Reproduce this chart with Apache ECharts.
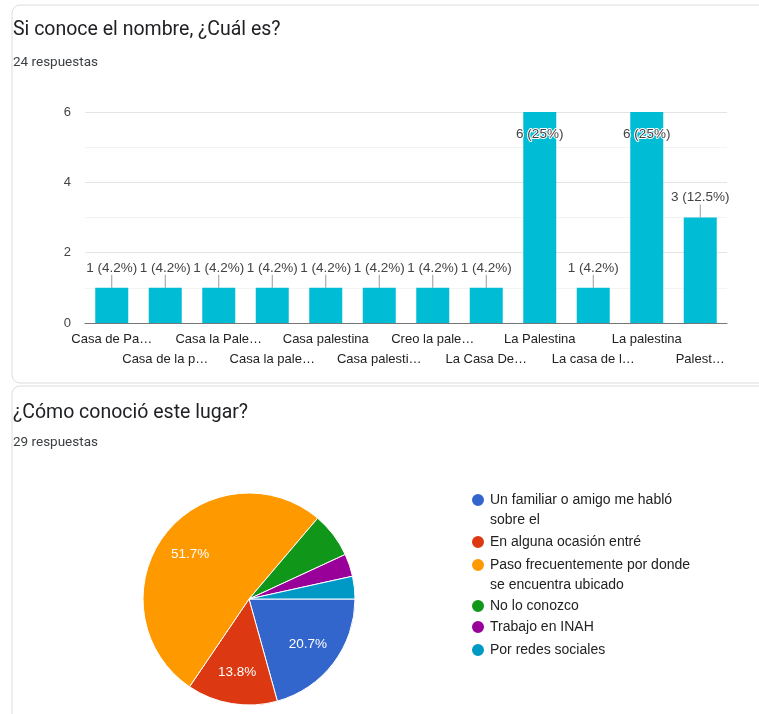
<!DOCTYPE html>
<html><head><meta charset="utf-8">
<script src="https://cdn.jsdelivr.net/npm/echarts@6/dist/echarts.min.js"></script>
<style>html,body{margin:0;padding:0;background:#fff}#c{width:759px;height:714px}</style>
</head><body><div id="c"></div>
<script>
// ---- data ----
const barTitle = 'Si conoce el nombre, ¿Cuál es?';
const barSubtitle = '24 respuestas';
const barCategories = ['Casa de Pa…','Casa de la p…','Casa la Pale…','Casa la pale…','Casa palestina','Casa palesti…','Creo la pale…','La Casa De…','La Palestina','La casa de l…','La palestina','Palest…'];
const barValues = [1,1,1,1,1,1,1,1,6,1,6,3];
const yTickLabels = [0,2,4,6];

const pieTitle = '¿Cómo conoció este lugar?';
const pieSubtitle = '29 respuestas';
const pieNames = ['Un familiar o amigo me habló sobre el','En alguna ocasión entré','Paso frecuentemente por donde se encuentra ubicado','No lo conozco','Trabajo en INAH','Por redes sociales'];
const pieLegendLines = [['Un familiar o amigo me habló','sobre el'],['En alguna ocasión entré'],['Paso frecuentemente por donde','se encuentra ubicado'],['No lo conozco'],['Trabajo en INAH'],['Por redes sociales']];
const pieValues = [6,4,15,2,1,1];
const pieColors = ['#3366cc','#dc3912','#ff9900','#109618','#990099','#0099c6'];

// ---- build ----
const chart = echarts.init(document.getElementById('c'), null, {renderer:'canvas'});
const barTotal = barValues.reduce((a,b)=>a+b,0);
const pieTotal = pieValues.reduce((a,b)=>a+b,0);
const yMax = 6;
const F = 'Liberation Sans, Arial, sans-serif';
const TF = 'Roboto, sans-serif';

const barData = barValues.map(v => v >= yMax
  ? {value:v, label:{position:'insideTop', distance:15, textBorderColor:'#fff', textBorderWidth:2}}
  : v);

const legendTops = [470, 532, 535, 596, 617, 640];
const legends = pieNames.map((n,i) => ({
  data:[n], orient:'vertical', left:470, top:legendTops[i], padding:0,
  icon:'circle', itemWidth:14, itemHeight:14, itemGap:5,
  formatter: () => (pieLegendLines[i].length > 1 ? '\n' : '') + pieLegendLines[i].join('\n'),
  textStyle:{fontFamily:F, fontSize:14, color:'#222', lineHeight:20}
}));

const option = {
  animation:false,
  graphic:[
    {type:'rect', shape:{x:12, y:5, width:800, height:378, r:8}, style:{fill:'none', stroke:'#dadce0', lineWidth:1}, z:-10},
    {type:'rect', shape:{x:12, y:386, width:800, height:400, r:8}, style:{fill:'none', stroke:'#dadce0', lineWidth:1}, z:-10}
  ],
  title:[
    {text:barTitle, left:13, top:20, padding:0, textStyle:{fontFamily:TF, fontSize:19.5, fontWeight:'normal', color:'#202124'}},
    {text:barSubtitle, left:13, top:56, padding:0, textStyle:{fontFamily:TF, fontSize:13.5, fontWeight:'normal', color:'#3c4043'}},
    {text:pieTitle, left:13, top:403, padding:0, textStyle:{fontFamily:TF, fontSize:19.5, fontWeight:'normal', color:'#202124'}},
    {text:pieSubtitle, left:13, top:436, padding:0, textStyle:{fontFamily:TF, fontSize:13.5, fontWeight:'normal', color:'#3c4043'}}
  ],
  legend: legends,
  grid:{left:85, right:32, top:112, bottom:391, containLabel:false},
  xAxis:{type:'category', data:barCategories,
    axisTick:{show:false},
    axisLine:{lineStyle:{color:'#777', width:1}},
    axisLabel:{interval:0, margin:6, fontFamily:F, fontSize:13, color:'#222', lineHeight:20,
      formatter:(v,i)=> i%2===1 ? '\n'+v : v}
  },
  yAxis:{type:'value', min:0, max:yMax, interval:1,
    axisLine:{show:false}, axisTick:{show:false},
    axisLabel:{margin:14, fontFamily:F, fontSize:13, color:'#444',
      formatter:v => yTickLabels.includes(v) ? String(v) : ''},
    splitLine:{lineStyle:{color:['#e4e4e4','#f3f3f3'], width:1}}
  },
  series:[
    {type:'bar', data:barData, barWidth:33, itemStyle:{color:'#00bcd4'},
      label:{show:true, position:'top', distance:0, fontFamily:F, fontSize:13.5, color:'#444',
        formatter:p => p.value + ' (' + parseFloat((p.value/barTotal*100).toFixed(1)) + '%)'},
      labelLayout:p => barValues[p.dataIndex] >= yMax ? {} : {dy:-13},
      labelLine:{show:true, lineStyle:{color:'#999', width:1}}
    },
    {type:'pie', center:[249,599], radius:106, startAngle:0, clockwise:true,
      label:{show:false}, labelLine:{show:false},
      itemStyle:{borderColor:'#fff', borderWidth:1},
      data:pieNames.map((n,i)=>({name:n, value:pieValues[i], itemStyle:{color:pieColors[i]}}))
    },
    {type:'pie', center:[249,599], radius:[36,106], startAngle:0, clockwise:true, silent:true,
      itemStyle:{color:'rgba(0,0,0,0)'}, labelLine:{show:false},
      label:{show:true, position:'inside', fontFamily:F, fontSize:13.5, color:'#fff',
        formatter:p => { const pc = p.value/pieTotal*100; return pc >= 10 ? pc.toFixed(1)+'%' : ''; }},
      data:pieNames.map((n,i)=>({name:n, value:pieValues[i]}))
    }
  ]
};
chart.setOption(option);
</script>
</body></html>
